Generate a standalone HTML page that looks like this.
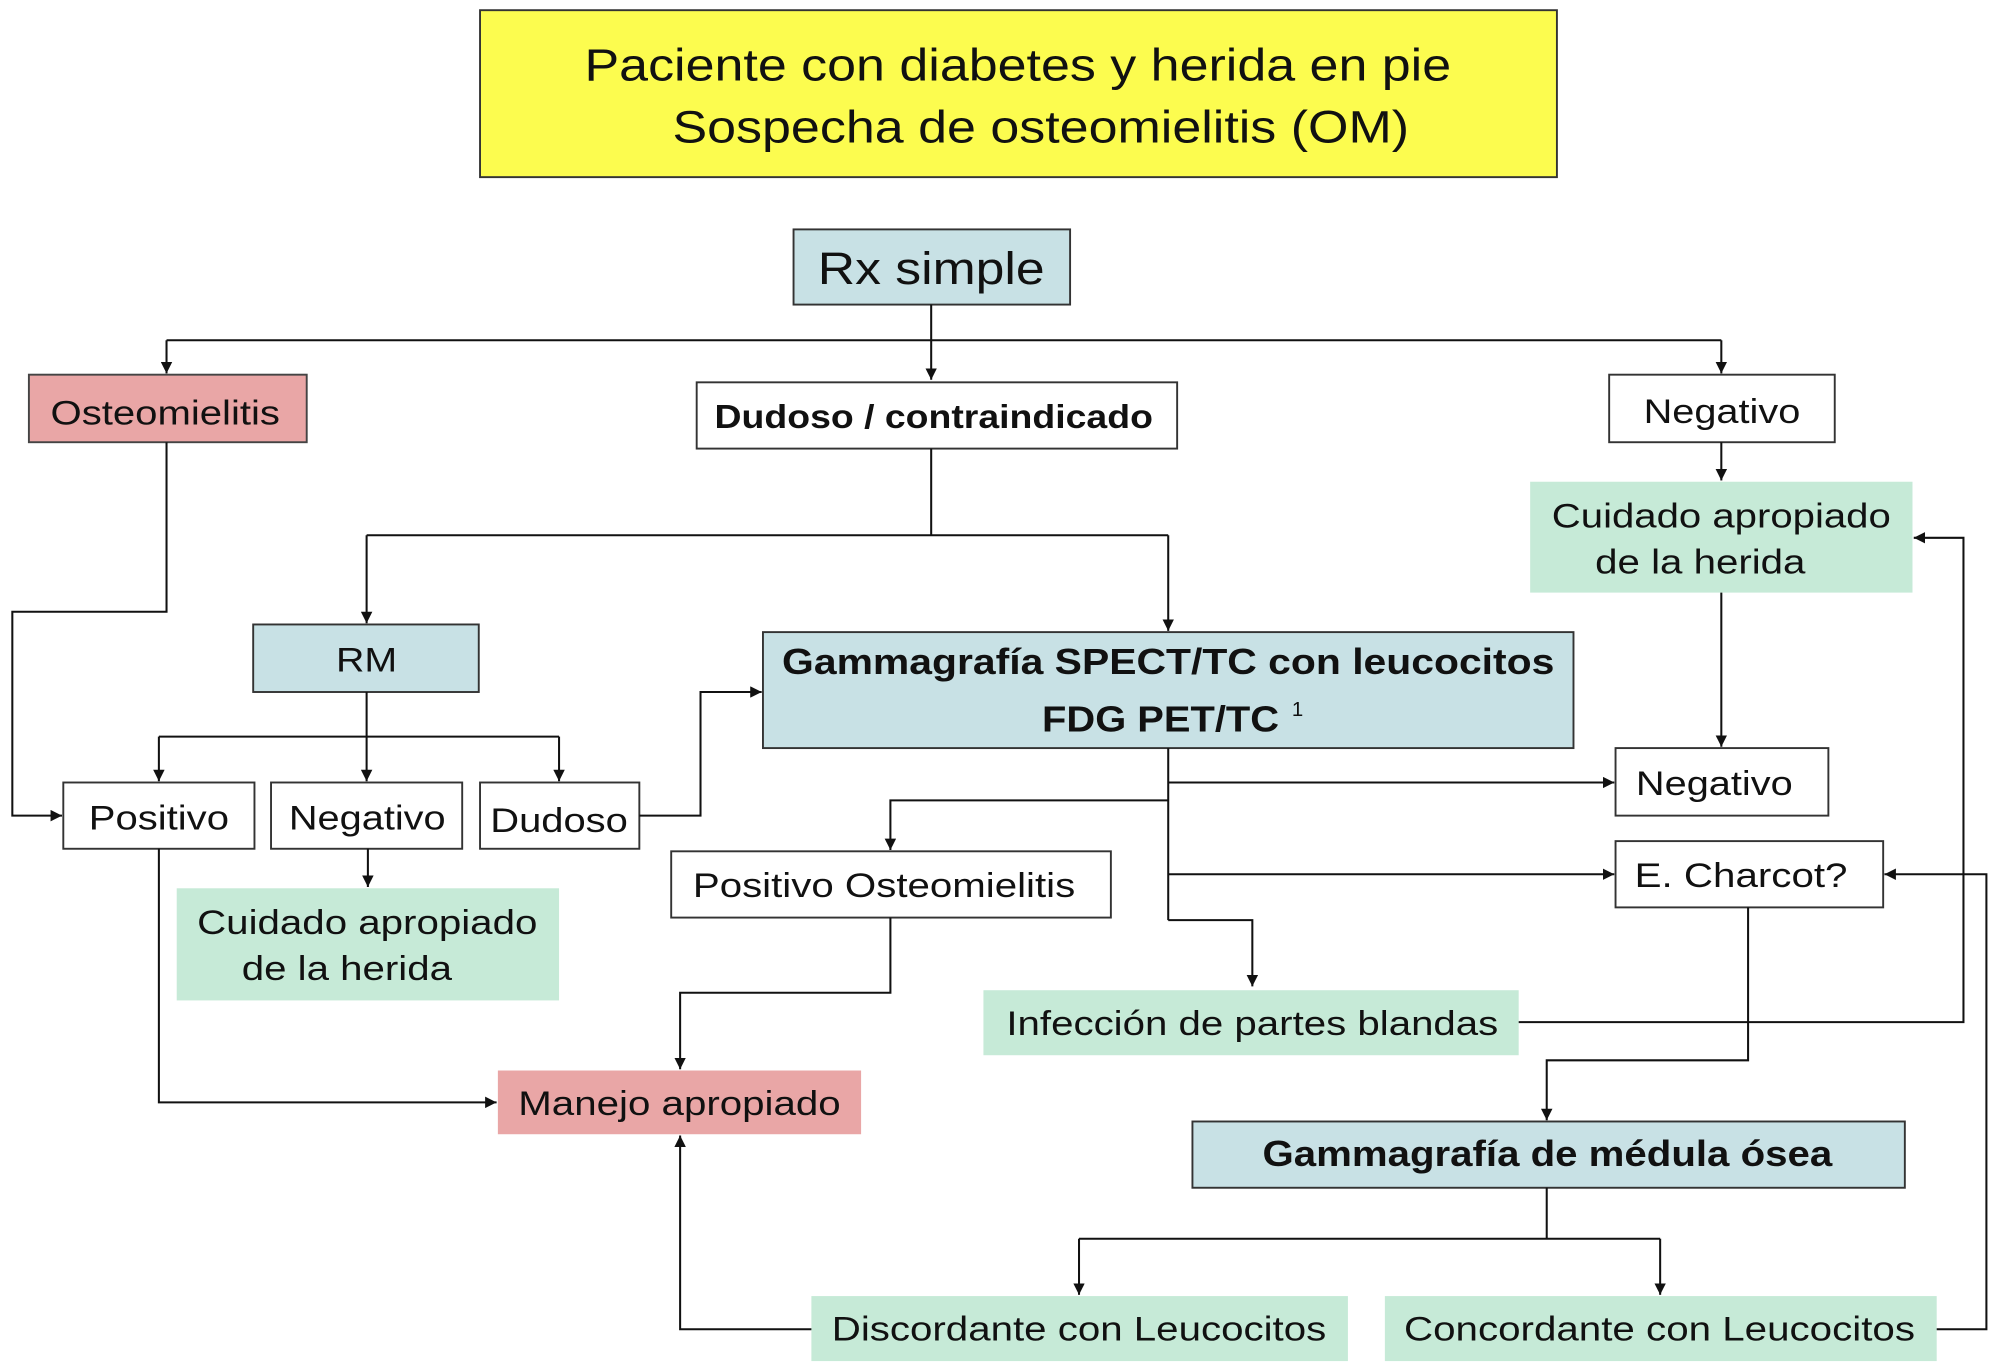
<!DOCTYPE html>
<html><head><meta charset="utf-8">
<style>
html,body{margin:0;padding:0;background:#fff;}
svg{display:block;}
text{font-family:"Liberation Sans",Arial,sans-serif;fill:#111;}
</style></head>
<body>
<svg width="2000" height="1370" viewBox="0 0 1568 1075" xmlns="http://www.w3.org/2000/svg">
<defs>
<marker id="a" viewBox="0 0 10 10" refX="10" refY="5" markerWidth="9" markerHeight="9" markerUnits="userSpaceOnUse" orient="auto">
<path d="M0,0 L10,5 L0,10 z" fill="#111"/></marker>
</defs>
<rect width="1568" height="1075" fill="#fff"/>
<rect x="376" y="8" width="845" height="131" fill="#fcfc4f" stroke="#333" stroke-width="1.5"/>
<text x="458" y="63" font-size="36" textLength="680" lengthAdjust="spacingAndGlyphs">Paciente con diabetes y herida en pie</text>
<text x="527" y="112" font-size="36" textLength="578" lengthAdjust="spacingAndGlyphs">Sospecha de osteomielitis (OM)</text>

<rect x="622" y="180" width="217" height="59" fill="#c8e1e5" stroke="#333" stroke-width="1.5"/>
<text x="641" y="223" font-size="36" textLength="178" lengthAdjust="spacingAndGlyphs">Rx simple</text>

<rect x="22" y="294" width="218" height="53" fill="#e9a6a6" stroke="#444" stroke-width="1.5"/>
<text x="39" y="333" font-size="27" textLength="180" lengthAdjust="spacingAndGlyphs">Osteomielitis</text>

<rect x="546" y="300" width="377" height="52" fill="#fff" stroke="#333" stroke-width="1.5"/>
<text x="560" y="336" font-size="26" font-weight="bold" fill="#333" textLength="344" lengthAdjust="spacingAndGlyphs">Dudoso  / contraindicado</text>

<rect x="1262" y="294" width="177" height="53" fill="#fff" stroke="#333" stroke-width="1.5"/>
<text x="1289" y="332" font-size="27" textLength="123" lengthAdjust="spacingAndGlyphs">Negativo</text>

<rect x="1200" y="378" width="300" height="87" fill="#c6ead7"/>
<text x="1217" y="414" font-size="27" textLength="266" lengthAdjust="spacingAndGlyphs">Cuidado apropiado</text>
<text x="1251" y="450" font-size="27" textLength="165" lengthAdjust="spacingAndGlyphs">de la herida</text>

<rect x="198" y="490" width="177" height="53" fill="#c8e1e5" stroke="#333" stroke-width="1.5"/>
<text x="263" y="527" font-size="27" textLength="48" lengthAdjust="spacingAndGlyphs">RM</text>

<rect x="598" y="496" width="636" height="91" fill="#c8e1e5" stroke="#333" stroke-width="1.5"/>
<text x="613" y="529" font-size="28" font-weight="bold" textLength="606" lengthAdjust="spacingAndGlyphs">Gammagrafía SPECT/TC  con leucocitos</text>
<text x="817" y="574" font-size="28" font-weight="bold" textLength="186" lengthAdjust="spacingAndGlyphs">FDG PET/TC</text>
<text x="1013" y="562" font-size="16">1</text>

<rect x="49" y="614" width="150" height="52" fill="#fff" stroke="#333" stroke-width="1.5"/>
<text x="69" y="651" font-size="27" textLength="110" lengthAdjust="spacingAndGlyphs">Positivo</text>
<rect x="212" y="614" width="150" height="52" fill="#fff" stroke="#333" stroke-width="1.5"/>
<text x="226" y="651" font-size="27" textLength="123" lengthAdjust="spacingAndGlyphs">Negativo</text>
<rect x="376" y="614" width="125" height="52" fill="#fff" stroke="#333" stroke-width="1.5"/>
<text x="384" y="653" font-size="27" textLength="108" lengthAdjust="spacingAndGlyphs">Dudoso</text>

<rect x="138" y="697" width="300" height="88" fill="#c6ead7"/>
<text x="154" y="733" font-size="27" textLength="267" lengthAdjust="spacingAndGlyphs">Cuidado apropiado</text>
<text x="189" y="769" font-size="27" textLength="165" lengthAdjust="spacingAndGlyphs">de la herida</text>

<rect x="1267" y="587" width="167" height="53" fill="#fff" stroke="#333" stroke-width="1.5"/>
<text x="1283" y="624" font-size="27" textLength="123" lengthAdjust="spacingAndGlyphs">Negativo</text>

<rect x="1267" y="660" width="210" height="52" fill="#fff" stroke="#333" stroke-width="1.5"/>
<text x="1282" y="696" font-size="27" textLength="167" lengthAdjust="spacingAndGlyphs">E. Charcot?</text>

<rect x="526" y="668" width="345" height="52" fill="#fff" stroke="#333" stroke-width="1.5"/>
<text x="543" y="704" font-size="27" textLength="300" lengthAdjust="spacingAndGlyphs">Positivo Osteomielitis</text>

<rect x="771" y="777" width="420" height="51" fill="#c6ead7"/>
<text x="789" y="812" font-size="27" textLength="386" lengthAdjust="spacingAndGlyphs">Infección de partes blandas</text>

<rect x="390" y="840" width="285" height="50" fill="#e9a6a6"/>
<text x="406" y="875" font-size="27" textLength="253" lengthAdjust="spacingAndGlyphs">Manejo apropiado</text>

<rect x="935" y="880" width="559" height="52" fill="#c8e1e5" stroke="#333" stroke-width="1.5"/>
<text x="990" y="915" font-size="28" font-weight="bold" textLength="447" lengthAdjust="spacingAndGlyphs">Gammagrafía de médula ósea</text>

<rect x="636" y="1017" width="421" height="51" fill="#c6ead7"/>
<text x="652" y="1052" font-size="27" textLength="388" lengthAdjust="spacingAndGlyphs">Discordante con Leucocitos</text>
<rect x="1086" y="1017" width="433" height="51" fill="#c6ead7"/>
<text x="1101" y="1052" font-size="27" textLength="401" lengthAdjust="spacingAndGlyphs">Concordante con Leucocitos</text>

<g stroke="#111" stroke-width="1.6" fill="none">
<line x1="730" y1="239" x2="730" y2="298" marker-end="url(#a)"/>
<line x1="130" y1="267" x2="1350" y2="267"/>
<line x1="130" y1="267" x2="130" y2="293" marker-end="url(#a)"/>
<line x1="1350" y1="267" x2="1350" y2="293" marker-end="url(#a)"/>
<line x1="1350" y1="347" x2="1350" y2="377" marker-end="url(#a)"/>
<line x1="1350" y1="465" x2="1350" y2="586" marker-end="url(#a)"/>
<line x1="730" y1="352" x2="730" y2="420"/>
<line x1="287" y1="420" x2="916" y2="420"/>
<line x1="287" y1="420" x2="287" y2="489" marker-end="url(#a)"/>
<line x1="916" y1="420" x2="916" y2="495" marker-end="url(#a)"/>
<line x1="287" y1="543" x2="287" y2="613" marker-end="url(#a)"/>
<line x1="124" y1="578" x2="438" y2="578"/>
<line x1="124" y1="578" x2="124" y2="613" marker-end="url(#a)"/>
<line x1="438" y1="578" x2="438" y2="613" marker-end="url(#a)"/>
<polyline points="130,347 130,480 9,480 9,640 48,640" marker-end="url(#a)"/>
<polyline points="501,640 549,640 549,543 597,543" marker-end="url(#a)"/>
<line x1="288" y1="666" x2="288" y2="696" marker-end="url(#a)"/>
<polyline points="124,666 124,865 389,865" marker-end="url(#a)"/>
<line x1="916" y1="587" x2="916" y2="722"/>
<polyline points="916,722 982,722 982,774" marker-end="url(#a)"/>
<line x1="916" y1="614" x2="1266" y2="614" marker-end="url(#a)"/>
<line x1="916" y1="686" x2="1266" y2="686" marker-end="url(#a)"/>
<polyline points="916,628 698,628 698,667" marker-end="url(#a)"/>
<polyline points="698,720 698,779 533,779 533,839" marker-end="url(#a)"/>
<polyline points="1191,802 1540,802 1540,422 1501,422" marker-end="url(#a)"/>
<polyline points="1371,712 1371,832 1213,832 1213,879" marker-end="url(#a)"/>
<line x1="1213" y1="932" x2="1213" y2="972"/>
<line x1="846" y1="972" x2="1302" y2="972"/>
<line x1="846" y1="972" x2="846" y2="1016" marker-end="url(#a)"/>
<line x1="1302" y1="972" x2="1302" y2="1016" marker-end="url(#a)"/>
<polyline points="636,1043 533,1043 533,891" marker-end="url(#a)"/>
<polyline points="1519,1043 1558,1043 1558,686 1478,686" marker-end="url(#a)"/>
</g>
</svg>
</body></html>
